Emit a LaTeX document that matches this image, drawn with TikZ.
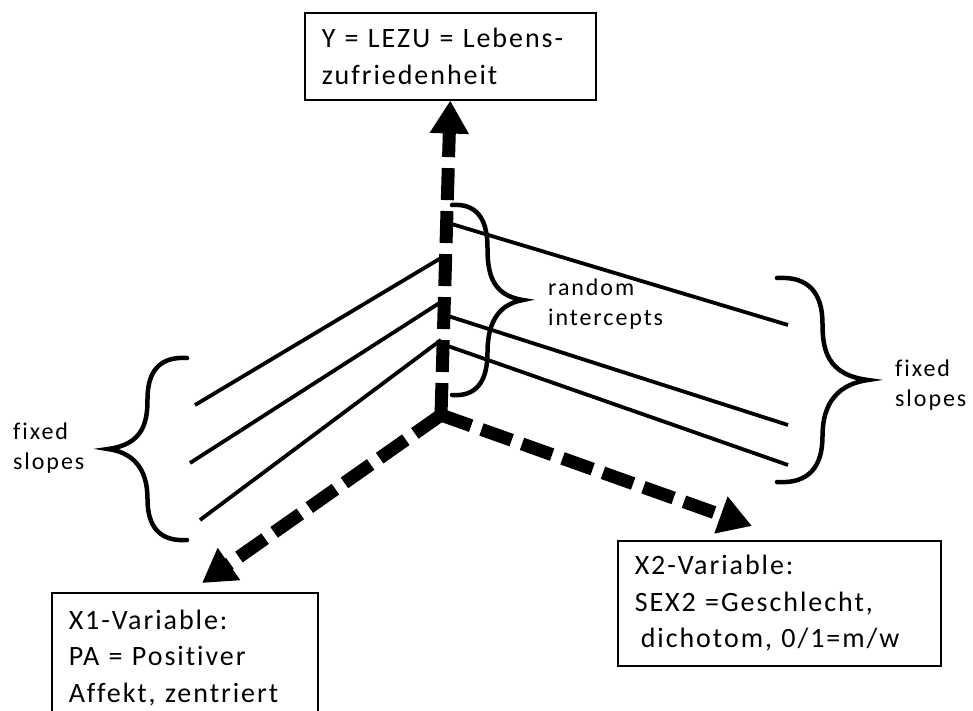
\documentclass[tikz,border=0pt]{standalone}
\usepackage{fontspec}
\setmainfont{Carlito}
\newfontfamily\bigfont[LetterSpace=7,Ligatures=NoCommon]{Carlito}
\newfontfamily\smallfont[LetterSpace=8,Ligatures=NoCommon]{Carlito}
\usetikzlibrary{arrows.meta,calc}
\tikzset{
  hbrace/.pic={\draw[line width=4.5pt, line cap=round]
    (0,-1) .. controls (0.35,-1.02) and (0.5,-0.85) .. (0.5,-0.55)
    .. controls (0.5,-0.3) and (0.55,-0.05) .. (1,0)
    .. controls (0.6,0.05) and (0.5,0.3) .. (0.5,0.55)
    .. controls (0.5,0.85) and (0.35,1.02) .. (0,1);}
}
\begin{document}
\begin{tikzpicture}[x=1pt,y=-1pt,
  box/.style={draw, line width=1.5pt, align=left, anchor=north west, inner xsep=17pt, inner ysep=0pt,
    font=\bigfont\fontsize{28}{36.5}\selectfont},
  lbl/.style={align=left, inner sep=0pt, anchor=base west, font=\smallfont\fontsize{24}{30}\selectfont},
  axis/.style={line width=13pt, dash pattern=on 32pt off 11pt, -{Triangle[width=37pt,length=33pt]}},
  slope/.style={line width=3.8pt}]
\clip (0,0) rectangle (973,710);
% boxes
\node[box, text width=257pt, minimum height=87pt] (ybox) at (304,12) {Y = LEZU = Lebens-\\zufriedenheit};
\node[box, text width=232pt, minimum height=130pt] (xone) at (51,592) {X1-Variable:\\PA = Positiver\\Affekt, zentriert};
\node[box, text width=289pt, minimum height=125pt] (xtwo) at (617,540) {X2-Variable:\\SEX2 =Geschlecht,\\\hspace*{6pt}dichotom, 0/1=m/w};
% labels
\node[lbl] (ri) at (548,325) {random\\intercepts};
\node[lbl] (fr) at (895,406) {fixed\\slopes};
\node[lbl] (fl) at (13,469) {fixed\\slopes};
% slopes
\coordinate (O) at (441,415);
\draw[slope] (195,405) -- (441,258);
\draw[slope] (190,463) -- (441,302);
\draw[slope] (200,520) -- (441,340);
\draw[slope] (445,222) -- (788,325);
\draw[slope] (445,315) -- (788,425);
\draw[slope] (445,345) -- (788,465);
% braces
\pic[xscale=71, yscale=95] at (452,300) {hbrace};
\pic[xscale=91, yscale=102] at (777,380) {hbrace};
\pic[xscale=-79, yscale=91] at (187,449) {hbrace};
% axes
\coordinate (t1) at (202,583);
\coordinate (t2) at (752,526);
\draw[axis] (O) -- (ybox.south);
\draw[axis] (O) -- (t1);
\draw[axis] (O) -- (t2);
\end{tikzpicture}
\end{document}
